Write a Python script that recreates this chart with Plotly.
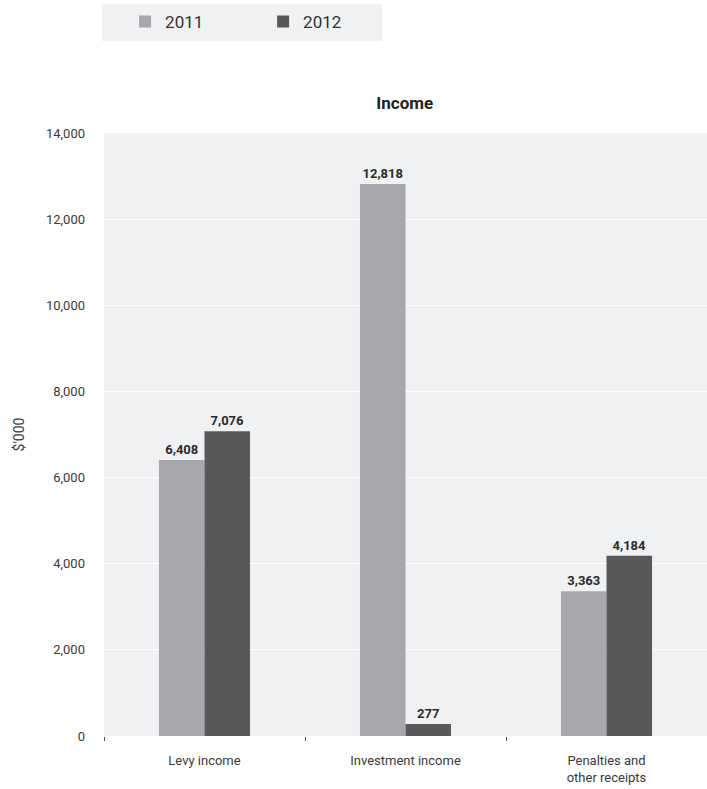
import plotly.graph_objects as go

categories = ["Levy income", "Investment income", "Penalties and<br>other receipts"]
values_2011 = [6408, 12818, 3363]
values_2012 = [7076, 277, 4184]
series_names = ["2011", "2012"]
y_ticks = [0, 2000, 4000, 6000, 8000, 10000, 12000, 14000]

FONT = "Roboto, Arial"
colors = ["#a7a8ab", "#58595b"]

fig = go.Figure()
for name, vals, c in zip(series_names, [values_2011, values_2012], colors):
    fig.add_trace(go.Bar(
        x=categories, y=vals, name=name, marker=dict(color=c, line=dict(width=0)),
        text=[f"{v:,}" for v in vals], textposition="outside",
        constraintext="none",
        textfont=dict(family="Roboto", size=13, color="#2b2b2b", weight="bold"),
        cliponaxis=False,
    ))

# legend background box
fig.add_shape(type="rect", xref="paper", yref="paper", x0=-0.0033, x1=0.461,
              y0=1.1526, y1=1.2139, fillcolor="#f0f1f3", line=dict(width=0), layer="below")

fig.update_layout(
    width=707, height=789,
    margin=dict(l=104, r=0, t=133, b=53),
    paper_bgcolor="white", plot_bgcolor="#f0f1f3",
    barmode="group", bargap=0.547, bargroupgap=0,
    font=dict(family=FONT, size=13, color="#3a3a3a"),
    title=dict(text="<b>Income</b>", x=0.5725, xanchor="center", y=0.87, yanchor="middle",
               font=dict(family="Roboto", size=17, color="#222")),
    legend=dict(orientation="h", x=0.035, xanchor="left", y=1.214, yanchor="top",
                bgcolor="rgba(0,0,0,0)", entrywidth=93, entrywidthmode="pixels",
                font=dict(family=FONT, size=17, color="#333"),
                itemsizing="constant", traceorder="normal"),
)
fig.update_xaxes(showgrid=False, ticks="outside", tickson="boundaries", ticklen=4,
                 tickcolor="#555", tickfont=dict(size=13), showline=False,
                 ticklabelstandoff=15)
fig.update_yaxes(range=[0, 14000], tickvals=y_ticks, tickformat=",", showgrid=True,
                 gridcolor="white", gridwidth=1, zeroline=False, ticks="",
                 ticklabelstandoff=18,
                 title=dict(text="$'000", font=dict(size=14), standoff=18))

fig.write_html("out.html")
